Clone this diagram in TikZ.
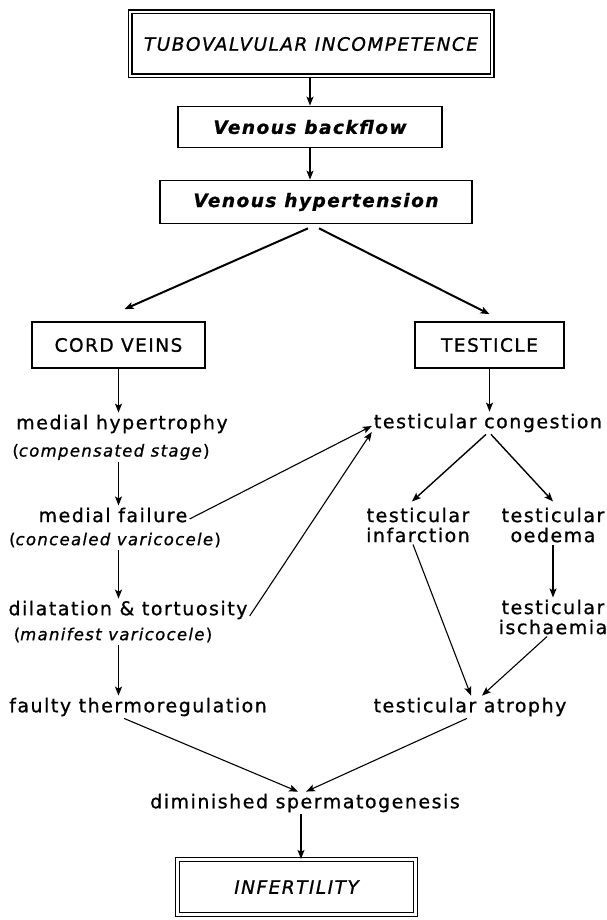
\documentclass[tikz,border=0pt]{standalone}
\usepackage{fontspec}
\setmainfont[LetterSpace=8, FakeBold=0.9, BoldFont={DejaVu Sans Bold}, ItalicFont={DejaVu Sans Oblique}, BoldItalicFont={DejaVu Sans Bold Oblique}]{DejaVu Sans}
\usepackage{tikz}
\usetikzlibrary{arrows.meta, positioning}

\begin{document}
\begin{tikzpicture}[x=1pt, y=-1pt, >={Stealth[length=9pt, width=7pt, inset=2pt]},
    box/.style={draw, line width=1.7pt, inner sep=0pt, font=\fontsize{18.5}{20}\selectfont},
    dbox/.style={draw, line width=1.2pt, double, double distance=2.6pt, inner sep=0pt,
                 font=\fontsize{18.5}{20}\selectfont\itshape},
    txt/.style={inner sep=2pt, font=\fontsize{19}{20}\selectfont, align=center},
    sub/.style={inner sep=2pt, font=\fontsize{16.5}{20}\selectfont},
    arr/.style={->, line width=1.4pt},
    lnk/.style={->, line width=1.1pt}]
  \useasboundingbox[fill=white] (0,0) rectangle (607,920);

  \node[dbox, minimum width=362pt, minimum height=64pt] (tvi) at (311,44)
    {TUBOVALVULAR INCOMPETENCE};
  \node[box, minimum width=264pt, minimum height=41pt] (bflow) at (310,127)
    {\bfseries\itshape Venous backflow};
  \node[box, minimum width=312pt, minimum height=43pt] (vhyp) at (316,202)
    {\bfseries\itshape Venous hypertension};
  \node[box, minimum width=173pt, minimum height=46pt] (cord) at (118.5,345) {CORD VEINS};
  \node[box, minimum width=149pt, minimum height=46pt] (test) at (489.5,345) {TESTICLE};

  \node[txt] (mhyp) at (122,424) {medial hypertrophy};
  \node[sub] (mhypsub) at (111,452) {(\textit{compensated stage})};
  \node[txt] (mfail) at (113,515) {medial failure};
  \node[sub] (mfailsub) at (115,540) {(\textit{concealed varicocele})};
  \node[txt] (dilat) at (128,610) {dilatation \& tortuosity};
  \node[sub] (dilatsub) at (113,635) {(\textit{manifest varicocele})};
  \node[txt] (faulty) at (138,707) {faulty thermoregulation};

  \node[txt] (cong) at (488,423) {testicular congestion};
  \node[txt] (infarc) at (418,525) {testicular\\infarction};
  \node[txt] (oedema) at (553,525) {testicular\\oedema};
  \node[txt] (isch) at (553,617) {testicular\\ischaemia};
  \node[txt] (atrophy) at (470,707) {testicular atrophy};

  \node[txt] (dimin) at (305,803) {diminished spermatogenesis};
  \node[dbox, minimum width=238pt, minimum height=55pt] (infert) at (296.5,887) {INFERTILITY};

  \draw[arr] (tvi.south -| bflow) -- (bflow.north);
  \draw[arr] (bflow.south) -- (bflow.south |- vhyp.north);
  \draw[->, line width=2pt] ([xshift=-8pt, yshift=-4pt]vhyp.south) -- ([xshift=6pt, yshift=12pt]cord.north);
  \draw[->, line width=2pt] ([xshift=3pt, yshift=-4pt]vhyp.south) -- ([yshift=7pt]test.north);

  \draw[arr] (cord.south) -- (cord.south |- mhyp.north);
  \draw[arr] (mhypsub.south -| cord) -- (mfail.north -| cord);
  \draw[arr] (mfailsub.south -| cord) -- (dilat.north -| cord);
  \draw[arr] (dilatsub.south -| cord) -- (faulty.north -| cord);
  \draw[lnk] ([yshift=-4pt]mfail.east) -- ([yshift=-3pt]cong.west);
  \draw[lnk] ([yshift=-6pt]dilat.east) -- ([yshift=-9pt]cong.west);

  \draw[arr] (test.south) -- (test.south |- cong.north);
  \draw[arr] ([xshift=-2pt]cong.south) -- ([xshift=-6pt, yshift=4pt]infarc.north);
  \draw[arr] ([xshift=3pt]cong.south) -- ([yshift=4pt]oedema.north);
  \draw[arr] (oedema.south) -- (isch.north);
  \draw[lnk] ([xshift=-5pt]infarc.south) -- ([xshift=1pt]atrophy.north);
  \draw[lnk] ([xshift=-6pt]isch.south) -- ([xshift=12pt]atrophy.north);

  \draw[lnk] ([xshift=-14pt]faulty.south) -- ([xshift=-7pt]dimin.north);
  \draw[lnk] ([xshift=-3pt]atrophy.south) -- ([xshift=1pt]dimin.north);
  \draw[arr] ([xshift=-4pt]dimin.south) -- ([xshift=-4pt]dimin.south |- infert.north);
\end{tikzpicture}
\end{document}
